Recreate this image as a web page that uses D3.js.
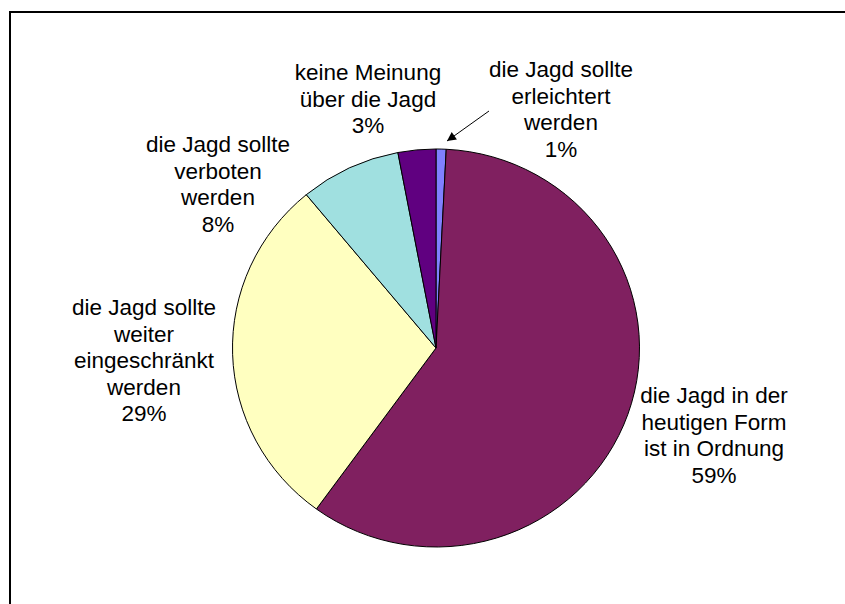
<!DOCTYPE html>
<html>
<head>
<meta charset="utf-8">
<script src="https://cdn.jsdelivr.net/npm/d3@7"></script>
<style>
  body { margin: 0; background: #fff; }
  svg text { font-family: "Liberation Sans", Arial, sans-serif; }
</style>
</head>
<body>
<div id="chart"></div>
<script>
// categories in drawing order, clockwise from 12 o'clock
const categories = [
    "die Jagd sollte erleichtert werden",
    "die Jagd in der heutigen Form ist in Ordnung",
    "die Jagd sollte weiter eingeschränkt werden",
    "die Jagd sollte verboten werden",
    "keine Meinung über die Jagd"
];
const values = [0.8, 59.2, 29, 8, 3];
const percentLabels = ["1%", "59%", "29%", "8%", "3%"];
const labelLines = [
    ["die Jagd sollte", "erleichtert", "werden"],
    ["die Jagd in der", "heutigen Form", "ist in Ordnung"],
    ["die Jagd sollte", "weiter", "eingeschränkt", "werden"],
    ["die Jagd sollte", "verboten", "werden"],
    ["keine Meinung", "über die Jagd"]
];
const colors = ["#8080ff", "#802060", "#ffffc0", "#a0e0e0", "#600080"];

// layout: first-line baseline anchor of each label
const labelAnchor = [[561, 77], [714, 403], [144, 315], [218, 152], [368, 80]];

function e1() {
    const width = 845, height = 604;
    const cx = 436, cy = 348, rx = 203.5, ry = 199;
    const lineH = 26.5;

    let svg = d3.select("#chart")
        .append("svg")
        .attr("width", width)
        .attr("height", height);

    svg.append("rect")
        .attr("width", "100%")
        .attr("height", "100%")
        .attr("fill", "#fff");

    // frame (only top and left edges fall inside the picture)
    svg.append("path")
        .attr("d", `M10,${height} L10,12 L${width},12`)
        .attr("fill", "none")
        .attr("stroke", "#000")
        .attr("stroke-width", 2);

    let pie = d3.pie().sort(null).value(d => d);
    let arc = d3.arc().innerRadius(0).outerRadius(rx);

    let g = svg.append("g")
        .attr("transform", `translate(${cx},${cy}) scale(1,${ry / rx})`);

    g.selectAll("path")
        .data(pie(values))
        .enter()
        .append("path")
        .attr("d", arc)
        .attr("fill", (d, i) => colors[i])
        .attr("stroke", "#000")
        .attr("stroke-width", 1)
        .attr("vector-effect", "non-scaling-stroke")
        .attr("stroke-linejoin", "round");

    // labels
    let labels = svg.append("g");
    categories.forEach(function(c, i) {
        let lines = labelLines[i].concat([percentLabels[i]]);
        let t = labels.append("text")
            .attr("text-anchor", "middle")
            .attr("font-size", "22.5px")
            .attr("fill", "#000");
        lines.forEach(function(l, j) {
            t.append("tspan")
                .attr("x", labelAnchor[i][0])
                .attr("y", labelAnchor[i][1] + j * lineH)
                .text(l);
        });
    });

    // leader arrow for the small slice
    svg.append("defs").append("marker")
        .attr("id", "arr")
        .attr("viewBox", "0 0 10 10")
        .attr("refX", 10).attr("refY", 5)
        .attr("markerWidth", 11).attr("markerHeight", 9)
        .attr("markerUnits", "userSpaceOnUse")
        .attr("orient", "auto")
        .append("path")
        .attr("d", "M0,0 L10,5 L0,10 Z")
        .attr("fill", "#000");

    svg.append("line")
        .attr("x1", 489).attr("y1", 111)
        .attr("x2", 447).attr("y2", 141)
        .attr("stroke", "#000")
        .attr("stroke-width", 1)
        .attr("marker-end", "url(#arr)");
}

e1();
</script>
</body>
</html>
